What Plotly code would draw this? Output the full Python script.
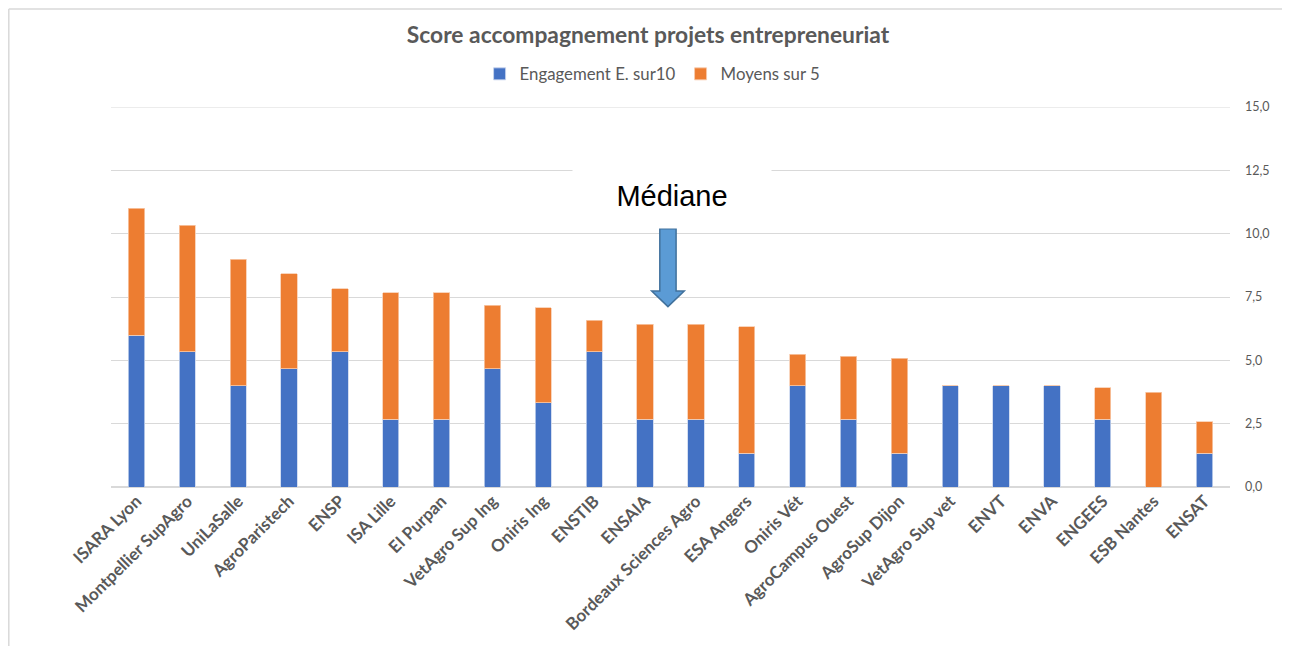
import plotly.graph_objects as go

categories = ["ISARA Lyon", "Montpellier SupAgro", "UniLaSalle", "AgroParistech", "ENSP",
              "ISA Lille", "EI Purpan", "VetAgro Sup Ing", "Oniris Ing", "ENSTIB", "ENSAIA",
              "Bordeaux Sciences Agro", "ESA Angers", "Oniris Vét", "AgroCampus Ouest",
              "AgroSup Dijon", "VetAgro Sup vet", "ENVT", "ENVA", "ENGEES", "ESB Nantes", "ENSAT"]
engagement = [6.0, 5.33, 4.0, 4.67, 5.33, 2.67, 2.67, 4.67, 3.33, 5.33, 2.67,
              2.67, 1.33, 4.0, 2.67, 1.33, 4.0, 4.0, 4.0, 2.67, 0.0, 1.33]
moyens = [5.0, 5.0, 5.0, 3.75, 2.5, 5.0, 5.0, 2.5, 3.75, 1.25, 3.75,
          3.75, 5.0, 1.25, 2.5, 3.75, 0.0, 0.0, 0.0, 1.25, 3.75, 1.25]
y_ticks = [0, 2.5, 5, 7.5, 10, 12.5, 15]

GRAY = "#595959"
GRID = "#D9D9D9"
FONT = "Lato"
OFF = 8  # page body margin offset

fig = go.Figure()
fig.add_trace(go.Bar(x=categories, y=engagement, name="Engagement E. sur10",
                     marker=dict(color="#4472C4", line=dict(color="#C9D6EE", width=0.8))))
fig.add_trace(go.Bar(x=categories, y=moyens, name="Moyens sur 5",
                     marker=dict(color="#ED7D31", line=dict(color="#F8CBAD", width=0.8))))

fig.update_layout(
    barmode="stack",
    bargap=0.68,
    width=1290, height=646,
    margin=dict(l=111 - OFF, r=60 + OFF, t=107 - OFF, b=159 + OFF, autoexpand=False),
    paper_bgcolor="white", plot_bgcolor="white",
    separators=", ",
    font=dict(family=FONT, color=GRAY),
    title=dict(text="<b>Score accompagnement projets entrepreneuriat</b>",
               x=(648 - OFF) / 1290, xanchor="center", y=1 - (35 - OFF) / 646, yanchor="middle",
               font=dict(size=22.8, color=GRAY, family=FONT)),
    legend=dict(orientation="h", x=0.484, xanchor="center", y=1.087, yanchor="middle",
                font=dict(size=16.8, color=GRAY, family=FONT), traceorder="normal",
                itemwidth=30),
    xaxis=dict(tickangle=-45, tickfont=dict(size=17, color=GRAY, family=FONT),
               tickprefix="<b>", ticksuffix="</b>",
               showgrid=False, showline=False, ticks="", automargin=False),
    yaxis=dict(side="right", range=[0, 15], tickvals=y_ticks, tickformat=".1f",
               showgrid=True, gridcolor=GRID, gridwidth=1,
               zeroline=True, zerolinecolor=GRID, zerolinewidth=1.5,
               tickfont=dict(size=12.5, color=GRAY, family=FONT), ticks="",
               ticklabelstandoff=14, showline=False, automargin=False),
)

# top gridline at the range edge (plotly drops it)
fig.add_shape(type="line", xref="paper", yref="y", x0=0, x1=1, y0=y_ticks[-1], y1=y_ticks[-1],
              line=dict(color=GRID, width=1), layer="below")

# chart area border (top and left)
x_left = (0.8 - (111 - OFF)) / 1119
fig.add_shape(type="line", xref="paper", yref="paper", x0=x_left, x1=1.06, y0=1.258, y1=1.258,
              line=dict(color=GRID, width=1.5))
fig.add_shape(type="line", xref="paper", yref="paper", x0=x_left, x1=x_left, y0=1.258, y1=-0.45,
              line=dict(color=GRID, width=1.5))

# Médiane text box
fig.add_annotation(x=10.53, y=11.49, xref="x", yref="y", text="Médiane", showarrow=False,
                   font=dict(family="Liberation Sans, Arial", size=29, color="black"),
                   bgcolor="white", width=196, height=62)

# block arrow pointing down
arrow_path = ("M 10.29,10.19 L 10.61,10.19 L 10.61,7.74 L 10.77,7.74 L 10.45,7.12 "
              "L 10.13,7.74 L 10.29,7.74 Z")
fig.add_shape(type="path", xref="x", yref="y", path=arrow_path,
              fillcolor="#5B9BD5", line=dict(color="#41719C", width=1.5), layer="above")

fig.write_html("out.html")
